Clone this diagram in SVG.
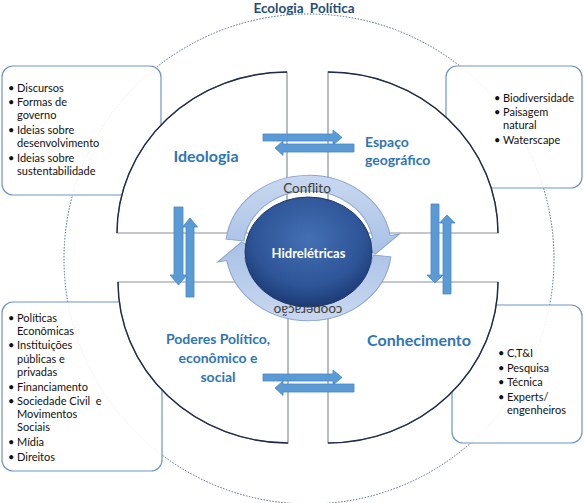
<svg xmlns="http://www.w3.org/2000/svg" width="584" height="503" viewBox="0 0 584 503">
<defs>
<style>
.box{fill:#fff;fill-opacity:0.88;stroke:#6f95c6;stroke-width:1.2}
.bt{font-family:Lato,"Open Sans",sans-serif;font-size:11px;fill:#111}
.quad{fill:#fff;stroke:#8a8f99;stroke-width:1.2}
.arc{fill:none;stroke:#1f2a48;stroke-width:1.4}
.lbl{font-family:Lato,"Open Sans",sans-serif;font-weight:bold;fill:#2e75b6}
.barrow{fill:#5b9bd5;stroke:#4a86c2;stroke-width:0.8}
.ring{fill:url(#ringg);stroke:#88a5d2;stroke-width:1}
.rt{font-family:Lato,"Open Sans",sans-serif;font-size:13.5px;fill:#404040}
</style>
<linearGradient id="ringg" x1="0" y1="0" x2="0" y2="1">
<stop offset="0" stop-color="#c9d8ef"/>
<stop offset="1" stop-color="#a9c1e6"/>
</linearGradient>
<radialGradient id="sph" cx="50%" cy="38%" r="62%">
<stop offset="0" stop-color="#4470b4"/>
<stop offset="0.7" stop-color="#2d5496"/>
<stop offset="1" stop-color="#1c3a74"/>
</radialGradient>
<path id="ringarrow" d="M-78.41 -9.63 A79 79 0 0 1 77.80 -13.72 L86.66 -15.28 L63.65 6.69 L44.32 -7.81 L61.06 -10.77 A62 62 0 0 0 -61.54 -7.56 Z"/>
</defs>

<text x="304" y="13" text-anchor="middle" style="font-family:Lato,'Open Sans',sans-serif;font-weight:bold;font-size:13.5px;fill:#1f4e79;word-spacing:3px">Ecologia Política</text>
<circle cx="309" cy="259" r="245" fill="none" stroke="#4f6484" stroke-width="1" stroke-dasharray="1.5 1.5"/>

<g id="box-ideologia">
<rect class="box" x="2" y="66" width="159" height="129" rx="11"/>
<text class="bt" x="8" y="92">•</text><text class="bt" x="17" y="92">Discursos</text>
<text class="bt" x="8" y="106">•</text><text class="bt" x="17" y="106">Formas de</text>
<text class="bt" x="17" y="119">governo</text>
<text class="bt" x="8" y="134">•</text><text class="bt" x="17" y="134">Ideias sobre</text>
<text class="bt" x="17" y="147">desenvolvimento</text>
<text class="bt" x="8" y="162">•</text><text class="bt" x="17" y="162">Ideias sobre</text>
<text class="bt" x="17" y="175">sustentabilidade</text>
</g>

<g id="box-poderes">
<rect class="box" x="2" y="302" width="160" height="169" rx="11"/>
<text class="bt" x="8" y="322">•</text><text class="bt" x="17" y="322">Políticas</text>
<text class="bt" x="17" y="335">Econômicas</text>
<text class="bt" x="8" y="349">•</text><text class="bt" x="17" y="349">Instituições</text>
<text class="bt" x="17" y="363">públicas e</text>
<text class="bt" x="17" y="376">privadas</text>
<text class="bt" x="8" y="391">•</text><text class="bt" x="17" y="391">Financiamento</text>
<text class="bt" x="8" y="405">•</text><text class="bt" x="17" y="405" xml:space="preserve">Sociedade Civil  e</text>
<text class="bt" x="17" y="418">Movimentos</text>
<text class="bt" x="17" y="431">Sociais</text>
<text class="bt" x="8" y="446">•</text><text class="bt" x="17" y="446">Mídia</text>
<text class="bt" x="8" y="461">•</text><text class="bt" x="17" y="461">Direitos</text>
</g>

<g id="box-espaco">
<rect class="box" x="446" y="66" width="136" height="122" rx="11"/>
<text class="bt" x="494" y="102">•</text><text class="bt" x="503" y="102">Biodiversidade</text>
<text class="bt" x="494" y="116">•</text><text class="bt" x="503" y="116">Paisagem</text>
<text class="bt" x="503" y="129">natural</text>
<text class="bt" x="494" y="144">•</text><text class="bt" x="503" y="144">Waterscape</text>
</g>

<g id="box-conhecimento">
<rect class="box" x="452" y="305" width="130" height="138" rx="11"/>
<text class="bt" x="498" y="357">•</text><text class="bt" x="507" y="357">C,T&amp;I</text>
<text class="bt" x="498" y="372">•</text><text class="bt" x="507" y="372">Pesquisa</text>
<text class="bt" x="498" y="386">•</text><text class="bt" x="507" y="386">Técnica</text>
<text class="bt" x="498" y="401">•</text><text class="bt" x="507" y="401">Experts/</text>
<text class="bt" x="507" y="414">engenheiros</text>
</g>

<g id="ideologia">
<path class="quad" d="M287 233 L117 233 A170 161 0 0 1 287 72 Z"/>
<path class="arc" d="M117 233 A170 161 0 0 1 287 72"/>
<text class="lbl" x="206" y="162" text-anchor="middle" font-size="16">Ideologia</text>
</g>
<g id="espaco">
<path class="quad" d="M328 233 L328 72 A170 161 0 0 1 498 233 Z"/>
<path class="arc" d="M328 72 A170 161 0 0 1 498 233"/>
<text class="lbl" x="365" y="147" font-size="14">Espaço</text>
<text class="lbl" x="365" y="165" font-size="14">geográfico</text>
</g>
<g id="poderes">
<path class="quad" d="M288 282 L288 443 A170 161 0 0 1 118 282 Z"/>
<path class="arc" d="M288 443 A170 161 0 0 1 118 282"/>
<text class="lbl" x="218" y="344" text-anchor="middle" font-size="14">Poderes Político,</text>
<text class="lbl" x="218" y="363" text-anchor="middle" font-size="14">econômico e</text>
<text class="lbl" x="218" y="382" text-anchor="middle" font-size="14">social</text>
</g>
<g id="conhecimento">
<path class="quad" d="M328 282 L498 282 A170 161 0 0 1 328 443 Z"/>
<path class="arc" d="M498 282 A170 161 0 0 1 328 443"/>
<text class="lbl" x="419" y="346" text-anchor="middle" font-size="16">Conhecimento</text>
</g>

<g id="connectors">
<path class="barrow" d="M263 134 L333 134 L333 130 L342 137.5 L333 145 L333 141 L263 141 Z"/>
<path class="barrow" d="M354 144 L283 144 L283 141 L275 148 L283 155.5 L283 152 L354 152 Z"/>
<path class="barrow" d="M263 374 L333 374 L333 370 L342 377.5 L333 385 L333 381 L263 381 Z"/>
<path class="barrow" d="M354 384 L283 384 L283 381 L275 388 L283 395.5 L283 392 L354 392 Z"/>
<path class="barrow" d="M174 207 L183 207 L183 275 L187 275 L178.5 285 L170 275 L174 275 Z"/>
<path class="barrow" d="M186 297 L194 297 L194 227 L197.5 227 L190 218 L182.5 227 L186 227 Z"/>
<path class="barrow" d="M431 204 L439 204 L439 275 L443 275 L435 283 L427 275 L431 275 Z"/>
<path class="barrow" d="M443 294 L451 294 L451 223 L455 223 L447 215 L439.5 223 L443 223 Z"/>
</g>

<g id="hidreletricas">
<g transform="translate(308.5 248) scale(1.05 0.92)">
<use href="#ringarrow" class="ring" vector-effect="non-scaling-stroke"/>
<use href="#ringarrow" class="ring" transform="rotate(180)"/>
</g>
<ellipse cx="308.5" cy="252" rx="63.5" ry="55" fill="url(#sph)" stroke="#1e3a70" stroke-width="1"/>
<text x="308.5" y="257.5" text-anchor="middle" style="font-family:Lato,'Open Sans',sans-serif;font-weight:bold;font-size:13px;fill:#fff">Hidrelétricas</text>
<text class="rt" x="307" y="193" text-anchor="middle">Conflito</text>
<text class="rt" x="308" y="314.5" text-anchor="middle" transform="rotate(180 308 310)">cooperação</text>
</g>
</svg>
